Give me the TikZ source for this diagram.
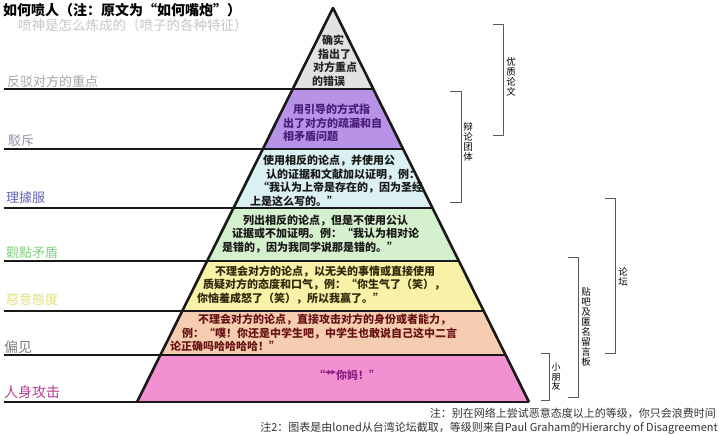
\documentclass[tikz,border=0pt]{standalone}
\usepackage{fontspec}
\setmainfont{Noto Sans CJK SC}
\definecolor{tgray}{HTML}{E2E2E2}
\definecolor{tpurple}{HTML}{B792E6}
\definecolor{tblue}{HTML}{DAF0F2}
\definecolor{tgreen}{HTML}{D5F0CD}
\definecolor{tyellow}{HTML}{F7F2A8}
\definecolor{tpeach}{HTML}{F6CDB0}
\definecolor{tpink}{HTML}{F291D2}
\begin{document}
\begin{tikzpicture}[x=1pt,y=-1pt,line join=round,
	tierline/.style={line width=2.6pt,black!90},
	tiertext/.style={anchor=west,align=left,inner sep=0pt,font=\fontsize{11}{13.5}\selectfont\bfseries},
	sidelabel/.style={anchor=west,inner sep=0pt,font=\fontsize{13}{13}\selectfont},
	brk/.style={line width=0.8pt,black!65},
	vlabel/.style={align=center,inner sep=0pt,font=\fontsize{9.5}{10}\selectfont}]
	\fill[white] (0,0) rectangle (720,435);
	\useasboundingbox (0,0) rectangle (720,435);
	% tiers of the pyramid
	\foreach \ya/\yb/\col in {8/89/tgray,89/149/tpurple,149/208/tblue,208/261/tgreen,261/311/tyellow,311/355/tpeach,355/402/tpink}{
		\pgfmathsetmacro\la{333-0.4975*(\ya-8)}
		\pgfmathsetmacro\lb{333-0.4975*(\yb-8)}
		\fill[\col] (\la,\ya)--(\lb,\yb)--(666-\lb,\yb)--(666-\la,\ya)--cycle;
	}
	\foreach \y in {89,149,208,261,311,355,402}{
		\pgfmathsetmacro\r{333+0.4975*(\y-8)}
		\draw[tierline] (4,\y)--(\r,\y);
	}
	\draw[tierline] (137,402)--(333,8)--(529,402);
	% headings
	\node[anchor=west,inner sep=0pt,font=\fontsize{14}{14}\selectfont\bfseries] (title) at (3,10) {如何喷人（注：原文为“如何嘴炮”）};
	\node[anchor=west,inner sep=0pt,text=black!22,font=\fontsize{13.5}{14}\selectfont] (subtitle) at (18,25) {喷神是怎么炼成的（喷子的各种特征）};
	% names of the levels
	\node[sidelabel,text=black!35] (l1) at (7,82) {反驳对方的重点};
	\node[sidelabel,text={rgb,255:red,155;green,145;blue,170}] (l2) at (8,141) {駁斥};
	\node[sidelabel,text={rgb,255:red,100;green,100;blue,180}] (l3) at (6,198) {理據服};
	\node[sidelabel,text={rgb,255:red,130;green,210;blue,130}] (l4) at (6,253) {觀點矛盾};
	\node[sidelabel,text={rgb,255:red,225;green,225;blue,120}] (l5) at (6,300) {惡意態度};
	\node[sidelabel,text=black!50,font=\fontsize{14}{14}\selectfont] (l6) at (4,347) {偏见};
	\node[sidelabel,text={rgb,255:red,185;green,60;blue,150},font=\fontsize{14}{14}\selectfont] (l7) at (4,392) {人身攻击};
	% texts in the tiers
	\node[tiertext,text=black!85] (t1) at (312,61) {\hspace*{10pt}确实\\\hspace*{6pt}指出了\\\hspace*{1pt}对方重点\\的错误};
	\node[tiertext,text={rgb,255:red,75;green,30;blue,120}] (t2) at (283,123) {\hspace*{10pt}用引导的方式指\\出了对方的疏漏和自\\相矛盾问题};
	\node[tiertext,text=black!90] (t3) at (250,181) {\hspace*{13pt}使用相反的论点，并使用公\\\hspace*{16pt}认的证据和文献加以证明，例：\\\hspace*{8pt}“我认为上帝是存在的，因为圣经\\上是这么写的。”};
	\node[tiertext,text=black!90] (t4) at (222,234) {\hspace*{21pt}列出相反的论点，但是不使用公认\\\hspace*{10pt}证据或不加证明。例：“我认为相对论\\是错的，因为我同学说那是错的。”};
	\node[tiertext,text={rgb,255:red,50;green,40;blue,10}] (t5) at (197,285) {\hspace*{18pt}不理会对方的论点，以无关的事情或直接使用\\\hspace*{6pt}质疑对方的态度和口气，例：“你生气了（笑），\\你恼羞成怒了（笑），所以我赢了。”};
	\node[tiertext,text={rgb,255:red,105;green,20;blue,20}] (t6) at (170,333) {\hspace*{28pt}不理会对方的论点，直接攻击对方的身份或者能力，\\\hspace*{12pt}例：“噗！你还是中学生吧，中学生也敢说自己这中二言\\论正确吗哈哈哈哈！”};
	\node[tiertext,anchor=center,text={rgb,255:red,140;green,30;blue,130}] (t7) at (347,375) {“艹你妈！”};
	% brackets on the right
	\draw[brk] (493,24)-|(503,135)--(493,135);
	\node[vlabel] (b1) at (511,77) {优\\质\\论\\文};
	\draw[brk] (450,91)-|(461,202)--(450,202);
	\node[vlabel] (b2) at (468,142) {辩\\论\\团\\体};
	\draw[brk] (605,198)-|(615,353)--(605,353);
	\node[vlabel] (b3) at (623,277) {论\\坛};
	\draw[brk] (568,257)-|(578,397)--(568,397);
	\node[vlabel] (b4) at (586,327) {贴\\吧\\及\\匿\\名\\留\\言\\板};
	\draw[brk] (541,353)-|(549,400)--(541,400);
	\node[vlabel,font=\fontsize{9}{9.5}\selectfont] (b5) at (556,377) {小\\朋\\友};
	% notes
	\node[anchor=east,inner sep=0pt,text=black!80,font=\fontsize{11}{11}\selectfont] (n1) at (716,413) {注：别在网络上尝试恶意态度以上的等级，你只会浪费时间};
	\node[anchor=east,inner sep=0pt,text=black!80,font=\fontsize{11}{11}\selectfont] (n2) at (718,428) {注2：图表是由loned从台湾论坛截取，等级则来自Paul Graham的Hierarchy of Disagreement};
\end{tikzpicture}
\end{document}
